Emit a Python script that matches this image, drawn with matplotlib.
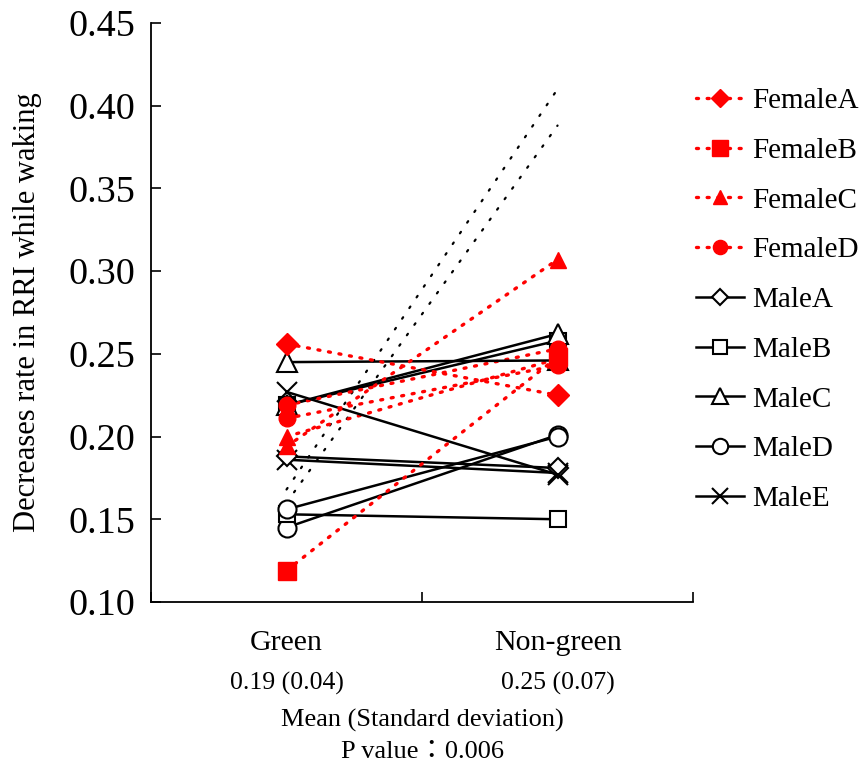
import matplotlib
matplotlib.use('Agg')
import matplotlib.pyplot as plt

plt.rcParams['font.family'] = ['Liberation Serif', 'Noto Sans CJK JP']

# data
groups = ['Green', 'Non-green']
group_stats = ['0.19 (0.04)', '0.25 (0.07)']
female_names = ['FemaleA', 'FemaleB', 'FemaleC', 'FemaleD']
female_vals = [[0.256, 0.225], [0.119, 0.248], [0.194, 0.307], [0.211, 0.243]]
female_marks = ['D', 's', '^', 'o']
male_names = ['MaleA', 'MaleB', 'MaleC', 'MaleD', 'MaleE']
male_vals = [[0.188, 0.181], [0.153, 0.150], [0.245, 0.246], [0.156, 0.200], [0.227, 0.177]]
male_marks = ['D', 's', '^', 'o', 'x']
# series drawn in the chart but left out of the legend
extra_female_vals = [[0.200, 0.247], [0.219, 0.253]]
extra_female_marks = ['^', 'o']
extra_male_vals = [[0.219, 0.258], [0.219, 0.262], [0.145, 0.201], [0.186, 0.178]]
extra_male_marks = ['s', '^', 'o', 'x']
hidden_vals = [[0.168, 0.410], [0.160, 0.388]]

x = [0, 1]
male_ms = {'D': 10, 's': 12, '^': 14, 'o': 13, 'x': 14}
female_ms = {'D': 11, 's': 13, '^': 12, 'o': 12}

fig = plt.figure(figsize=(8.65, 7.69), dpi=100)
ax = fig.add_axes([0.1746, 0.2172, 0.6266, 0.7529])

red_dot = (0, (0.6, 2.6))
blk_dot = (0, (0.8, 5))
for v in hidden_vals:
    ax.plot(x, v, color='black', lw=1.6, linestyle=blk_dot, dash_capstyle='round')

for v, m in zip(extra_male_vals, extra_male_marks):
    ax.plot(x, v, color='black', lw=1.8, marker=m, ms=male_ms[m], mfc='white',
            mec='black', mew=1.5)
for v, m in zip(extra_female_vals, extra_female_marks):
    ax.plot(x, v, color='red', lw=2.4, linestyle=red_dot, dash_capstyle='round',
            marker=m, ms=female_ms[m], mfc='red', mec='red')

for name, v, m in zip(male_names, male_vals, male_marks):
    ax.plot(x, v, color='black', lw=1.8, marker=m, ms=male_ms[m], mfc='white',
            mec='black', mew=1.5, label=name)
for name, v, m in zip(female_names, female_vals, female_marks):
    ax.plot(x, v, color='red', lw=2.4, linestyle=red_dot, dash_capstyle='round',
            marker=m, ms=female_ms[m], mfc='red', mec='red', label=name)

ax.set_xlim(-0.5, 1.5)
ax.set_ylim(0.10, 0.45)
ax.set_yticks([0.10, 0.15, 0.20, 0.25, 0.30, 0.35, 0.40, 0.45])
ax.set_yticklabels(['%.2f' % t for t in ax.get_yticks()], fontsize=27.5)
ax.tick_params(axis='y', direction='in', length=7, width=1.2, pad=11)
ax.set_xticks([-0.5, 0.5, 1.5])
ax.set_xticklabels([])
ax.tick_params(axis='x', direction='in', length=7, width=1.2)
ax.set_xticks(x, minor=True)
ax.set_xticklabels(groups, minor=True, fontsize=21.5)
ax.tick_params(axis='x', which='minor', length=0, pad=20)
for s in ['top', 'right']:
    ax.spines[s].set_visible(False)
for s in ['left', 'bottom']:
    ax.spines[s].set_linewidth(1.3)

ax.set_ylabel('Decreases rate in RRI while waking', fontsize=22, labelpad=19)

for xi, s in zip(x, group_stats):
    ax.text(xi, -0.140, s, transform=ax.get_xaxis_transform(), ha='center',
            va='center', fontsize=18.5)
fig.text(0.4879, 1 - 720 / 769, 'Mean (Standard deviation)', ha='center', va='center', fontsize=19)
fig.text(0.4879, 1 - 752 / 769, 'P value\uff1a0.006', ha='center', va='center', fontsize=19)

handles, labels = ax.get_legend_handles_labels()
order = [labels.index(n) for n in female_names + male_names]
fig.legend([handles[i] for i in order], [labels[i] for i in order],
           loc='center left', bbox_to_anchor=(0.805, 0.61), frameon=False,
           fontsize=21, handlelength=1.65, handletextpad=0.25, labelspacing=0.8,
           borderpad=0, borderaxespad=0, markerscale=0.85)

fig.savefig('out.png', dpi=100)
